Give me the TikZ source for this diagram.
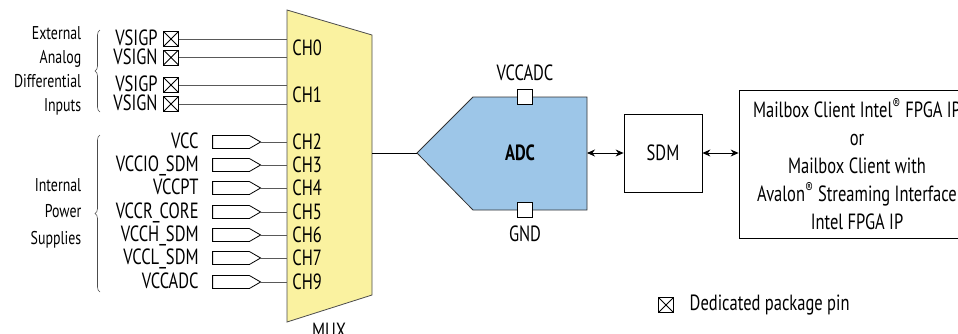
\documentclass[tikz,border=0pt]{standalone}
\usepackage{fontspec}
\setmainfont{PT Sans}[FakeStretch=0.75]
\usetikzlibrary{shapes.symbols,decorations.pathreplacing,arrows.meta}
\definecolor{muxyellow}{RGB}{250,242,160}
\definecolor{adcblue}{RGB}{157,198,232}
\tikzset{
  xpin/.style={draw,fill=white,minimum size=15pt,inner sep=0pt,
    path picture={\draw (path picture bounding box.north west)--(path picture bounding box.south east)
      (path picture bounding box.north east)--(path picture bounding box.south west);}},
  pwrpin/.style={draw,signal,signal to=east,signal pointer angle=60,
    minimum width=48pt,minimum height=13pt,inner sep=0pt},
  sqpin/.style={draw,fill=white,minimum size=15pt,inner sep=0pt},
  lbl/.style={anchor=east,inner sep=0pt,text height=13pt,text depth=0pt},
  chl/.style={anchor=west,inner sep=0pt,text height=15pt,text depth=0pt},
  wire/.style={draw=black!65},
}
\begin{document}
\begin{tikzpicture}[x=1pt,y=-1pt,>={Stealth[length=8pt,width=7pt]},line width=0.8pt,
  font=\fontsize{22}{28}\selectfont]
\useasboundingbox (0,0) rectangle (958,333);

\draw[fill=muxyellow,draw=black!70] (287,10)--(372,35)--(372,295)--(287,322)--cycle;
\coordinate (ML) at (287,0);
\coordinate (MR) at (372,153);
\node[anchor=north,inner sep=0pt] (MUX) at (329,323) {MUX};

\node[xpin] (P0) at (171,39) {};
\node[xpin] (N0) at (171,57.5) {};
\node[xpin] (P1) at (171,85) {};
\node[xpin] (N1) at (171,104) {};
\node[lbl] (LP0) at (158,39) {VSIGP};
\node[lbl] (LN0) at (158,57.5) {VSIGN};
\node[lbl] (LP1) at (158,85) {VSIGP};
\node[lbl] (LN1) at (158,104) {VSIGN};
\draw[wire](P0.east)--(P0.east-|ML);
\draw[wire](N0.east)--(N0.east-|ML);
\draw[wire](P1.east)--(P1.east-|ML);
\draw[wire](N1.east)--(N1.east-|ML);

\node[pwrpin] (S2) at (231,142) {};
\node[pwrpin] (S3) at (231,165) {};
\node[pwrpin] (S4) at (231,188) {};
\node[pwrpin] (S5) at (231,212) {};
\node[pwrpin] (S6) at (231,235) {};
\node[pwrpin] (S7) at (231,258) {};
\node[pwrpin] (S9) at (231,282) {};
\node[lbl] (L2) at (199,142) {VCC};
\node[lbl] (L3) at (199,165) {VCCIO\_SDM};
\node[lbl] (L4) at (199,188) {VCCPT};
\node[lbl] (L5) at (199,212) {VCCR\_CORE};
\node[lbl] (L6) at (199,235) {VCCH\_SDM};
\node[lbl] (L7) at (199,258) {VCCL\_SDM};
\node[lbl] (L9) at (199,282) {VCCADC};
\draw[wire](S2.east)--(S2.east-|ML);
\draw[wire](S3.east)--(S3.east-|ML);
\draw[wire](S4.east)--(S4.east-|ML);
\draw[wire](S5.east)--(S5.east-|ML);
\draw[wire](S6.east)--(S6.east-|ML);
\draw[wire](S7.east)--(S7.east-|ML);
\draw[wire](S9.east)--(S9.east-|ML);

\node[chl] (C0) at (292,48) {CH0};
\node[chl] (C1) at (292,95) {CH1};
\node[chl] (C2) at (292,142) {CH2};
\node[chl] (C3) at (292,165) {CH3};
\node[chl] (C4) at (292,188) {CH4};
\node[chl] (C5) at (292,212) {CH5};
\node[chl] (C6) at (292,235) {CH6};
\node[chl] (C7) at (292,258) {CH7};
\node[chl] (C9) at (292,282) {CH9};

\draw[draw=black!70,line width=0.6pt,decorate,decoration={brace,amplitude=5pt}] (100,112)--(100,30);
\draw[draw=black!70,line width=0.6pt,decorate,decoration={brace,amplitude=5pt}] (100,292)--(100,135);
\node[anchor=east,align=right,font=\fontsize{18.5}{24}\selectfont] (EXT) at (85,71) {External\\Analog\\Differential\\Inputs};
\node[anchor=east,align=right,font=\fontsize{18.5}{26.5}\selectfont] (INT) at (85,213) {Internal\\Power\\Supplies};

\draw[fill=adcblue,draw=black!80] (417,153)--(473,97)--(587,97)--(587,210)--(473,210)--cycle;
\coordinate (AT) at (417,153);
\coordinate (AR) at (587,153);
\node[font=\fontsize{22}{28}\bfseries] (ADC) at (520,153) {ADC};
\node[sqpin] (VA) at (525,97) {};
\node[sqpin] (GA) at (525,210) {};
\node (VAL) at (525,73) {VCCADC};
\node (GAL) at (525,234) {GND};
\draw(MR)--(AT);

\node[draw,minimum width=78pt,minimum height=78pt] (SDM) at (663,153) {SDM};
\node[draw,minimum width=236pt,minimum height=148pt,align=center,font=\fontsize{22}{28}\selectfont] (IP) at (857,164)
  {Mailbox Client Intel\textsuperscript{®} FPGA IP\\or\\Mailbox Client with\\Avalon\textsuperscript{®} Streaming Interface\\Intel FPGA IP};
\draw[<->](AR)--(SDM.west);
\draw[<->](SDM.east)--(SDM.east-|IP.west);

\node[xpin] (LEG) at (666,305) {};
\node[anchor=west] (LEGT) at (686,305) {Dedicated package pin};
\end{tikzpicture}
\end{document}
